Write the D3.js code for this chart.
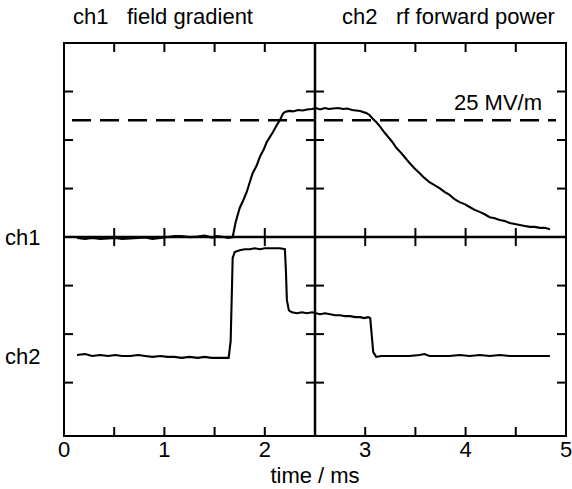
<!DOCTYPE html>
<html>
<head>
<meta charset="utf-8">
<script src="https://cdn.jsdelivr.net/npm/d3@7"></script>
<style>
  body { margin: 0; background: #fff; }
  text { font-family: "Liberation Sans", Arial, sans-serif; fill: #000; }
</style>
</head>
<body>
<div id="chart"></div>
<script>
// Scope screen readout. Time in ms, vertical in screen divisions (0 = centre line)
var ch1 = [
  [0.13, -0.02], [0.21, -0.04], [0.28, -0.02], [0.36, -0.04], [0.44, -0.03], [0.51, -0.02],
  [0.58, -0.04], [0.66, -0.03], [0.74, -0.02], [0.81, -0.01], [0.88, -0.04], [0.96, -0.02],
  [1.03, 0.00], [1.10, 0.02], [1.17, 0.02], [1.25, 0.00], [1.33, 0.01], [1.40, 0.03],
  [1.47, -0.01], [1.53, 0.02], [1.59, 0.00], [1.64, -0.02], [1.68, 0.00], [1.71, 0.31],
  [1.75, 0.60], [1.79, 0.78], [1.82, 0.93], [1.85, 1.13], [1.88, 1.32], [1.92, 1.48],
  [1.95, 1.65], [1.99, 1.81], [2.02, 1.96], [2.05, 2.06], [2.08, 2.16], [2.12, 2.31],
  [2.15, 2.41], [2.18, 2.54], [2.20, 2.58], [2.24, 2.60], [2.28, 2.59], [2.33, 2.62],
  [2.38, 2.61], [2.42, 2.63], [2.47, 2.64], [2.51, 2.66], [2.55, 2.63], [2.60, 2.66],
  [2.64, 2.64], [2.68, 2.65], [2.73, 2.66], [2.78, 2.64], [2.82, 2.65], [2.87, 2.62],
  [2.91, 2.61], [2.95, 2.60], [2.99, 2.57], [3.01, 2.56], [3.04, 2.52], [3.08, 2.43],
  [3.11, 2.37], [3.15, 2.27], [3.19, 2.16], [3.23, 2.06], [3.27, 1.96], [3.31, 1.84],
  [3.36, 1.73], [3.40, 1.63], [3.44, 1.53], [3.49, 1.42], [3.54, 1.32], [3.59, 1.22],
  [3.64, 1.13], [3.69, 1.07], [3.74, 1.01], [3.79, 0.93], [3.84, 0.87], [3.89, 0.78],
  [3.94, 0.72], [3.99, 0.68], [4.04, 0.62], [4.09, 0.56], [4.14, 0.52], [4.19, 0.47],
  [4.24, 0.41], [4.29, 0.39], [4.34, 0.35], [4.39, 0.33], [4.44, 0.29], [4.49, 0.27],
  [4.54, 0.25], [4.59, 0.23], [4.64, 0.21], [4.69, 0.21], [4.74, 0.19], [4.79, 0.19],
  [4.84, 0.16]
];

var ch2 = [
  [0.13, -2.43], [0.21, -2.41], [0.28, -2.45], [0.36, -2.43], [0.44, -2.45], [0.51, -2.43],
  [0.58, -2.45], [0.66, -2.45], [0.74, -2.43], [0.81, -2.45], [0.88, -2.47], [0.96, -2.45],
  [1.03, -2.47], [1.10, -2.47], [1.17, -2.49], [1.25, -2.47], [1.33, -2.49], [1.40, -2.47],
  [1.47, -2.49], [1.53, -2.49], [1.59, -2.49], [1.64, -2.49], [1.66, -2.14], [1.67, -1.30],
  [1.68, -0.43], [1.70, -0.31], [1.75, -0.27], [1.80, -0.25], [1.85, -0.25], [1.90, -0.23],
  [1.95, -0.25], [2.00, -0.23], [2.05, -0.23], [2.10, -0.23], [2.15, -0.23], [2.20, -0.25],
  [2.21, -0.68], [2.22, -1.30], [2.24, -1.51], [2.27, -1.55], [2.32, -1.57], [2.37, -1.55],
  [2.42, -1.57], [2.47, -1.55], [2.51, -1.57], [2.55, -1.59], [2.60, -1.57], [2.65, -1.59],
  [2.70, -1.61], [2.75, -1.61], [2.80, -1.63], [2.85, -1.63], [2.90, -1.65], [2.95, -1.65],
  [2.99, -1.67], [3.03, -1.65], [3.05, -1.67], [3.07, -2.14], [3.08, -2.37], [3.11, -2.47],
  [3.16, -2.45], [3.24, -2.45], [3.34, -2.45], [3.44, -2.45], [3.54, -2.43], [3.59, -2.41],
  [3.64, -2.45], [3.74, -2.45], [3.84, -2.45], [3.94, -2.43], [4.04, -2.45], [4.14, -2.43],
  [4.24, -2.45], [4.34, -2.43], [4.44, -2.45], [4.54, -2.45], [4.64, -2.45], [4.74, -2.45],
  [4.84, -2.45]
];

var gradientLevel = 2.41;          // 25 MV/m marker, in divisions
var xTicks = [0, 1, 2, 3, 4, 5];
var minorX = [0.5, 1, 1.5, 2, 3, 3.5, 4, 4.5];
var yDivs = [-3, -2, -1, 1, 2, 3];

var width = 572, height = 489;
var margin = { top: 43, right: 6, bottom: 53, left: 64 };

var svg = d3.select('#chart').append('svg')
  .attr('width', width)
  .attr('height', height);

var x = d3.scaleLinear().domain([0, 5]).range([margin.left, width - margin.right]);
var y = d3.scaleLinear().domain([-4.1, 4]).range([height - margin.bottom, margin.top]);

var tickLen = 9;

// frame
svg.append('rect')
  .attr('x', x(0)).attr('y', y(4))
  .attr('width', x(5) - x(0)).attr('height', y(-4.1) - y(4))
  .attr('fill', 'none').attr('stroke', '#000').attr('stroke-width', 2);

// centre lines
svg.append('line')
  .attr('x1', x(2.5)).attr('x2', x(2.5)).attr('y1', y(4)).attr('y2', y(-4.1))
  .attr('stroke', '#000').attr('stroke-width', 2.5);
svg.append('line')
  .attr('x1', x(0)).attr('x2', x(5)).attr('y1', y(0)).attr('y2', y(0))
  .attr('stroke', '#000').attr('stroke-width', 2.5);

var ticks = svg.append('g').attr('stroke', '#000').attr('stroke-width', 2);

minorX.forEach(function(t) {
  // top and bottom edges
  ticks.append('line').attr('x1', x(t)).attr('x2', x(t)).attr('y1', y(4)).attr('y2', y(4) + tickLen);
  ticks.append('line').attr('x1', x(t)).attr('x2', x(t)).attr('y1', y(-4.1)).attr('y2', y(-4.1) - tickLen);
  // across horizontal centre line
  ticks.append('line').attr('x1', x(t)).attr('x2', x(t)).attr('y1', y(0) - tickLen).attr('y2', y(0) + tickLen);
});

yDivs.forEach(function(d) {
  ticks.append('line').attr('x1', x(0)).attr('x2', x(0) + tickLen).attr('y1', y(d)).attr('y2', y(d));
  ticks.append('line').attr('x1', x(5)).attr('x2', x(5) - tickLen).attr('y1', y(d)).attr('y2', y(d));
  ticks.append('line').attr('x1', x(2.5) - tickLen).attr('x2', x(2.5) + tickLen).attr('y1', y(d)).attr('y2', y(d));
});

// 25 MV/m dashed marker
svg.append('line')
  .attr('x1', x(0.08)).attr('x2', x(4.9))
  .attr('y1', y(gradientLevel)).attr('y2', y(gradientLevel))
  .attr('stroke', '#000').attr('stroke-width', 2.5)
  .attr('stroke-dasharray', '19,9');

var line = d3.line()
  .x(function(d) { return x(d[0]); })
  .y(function(d) { return y(d[1]); });

[ch1, ch2].forEach(function(series) {
  svg.append('path')
    .datum(series)
    .attr('d', line)
    .attr('fill', 'none')
    .attr('stroke', '#000')
    .attr('stroke-width', 2.1);
});

// labels
var fs = 22;
svg.selectAll('.xlab').data(xTicks).enter().append('text')
  .attr('x', function(d) { return x(d); })
  .attr('y', 457)
  .attr('text-anchor', 'middle')
  .style('font-size', fs + 'px')
  .text(function(d) { return d; });

svg.append('text').attr('x', x(2.5)).attr('y', 483)
  .attr('text-anchor', 'middle').style('font-size', fs + 'px').text('time / ms');

svg.append('text').attr('x', 5).attr('y', y(0) + 8).style('font-size', fs + 'px').text('ch1');
svg.append('text').attr('x', 5).attr('y', y(-2.45) + 8).style('font-size', fs + 'px').text('ch2');

svg.append('text').attr('x', 73).attr('y', 24).style('font-size', fs + 'px').text('ch1');
svg.append('text').attr('x', 127).attr('y', 24).style('font-size', fs + 'px').text('field gradient');
svg.append('text').attr('x', 342).attr('y', 24).style('font-size', fs + 'px').text('ch2');
svg.append('text').attr('x', 396).attr('y', 24).style('font-size', fs + 'px').text('rf forward power');

svg.append('text').attr('x', 542).attr('y', y(gradientLevel) - 10)
  .attr('text-anchor', 'end').style('font-size', fs + 'px').text('25 MV/m');
</script>
</body>
</html>
